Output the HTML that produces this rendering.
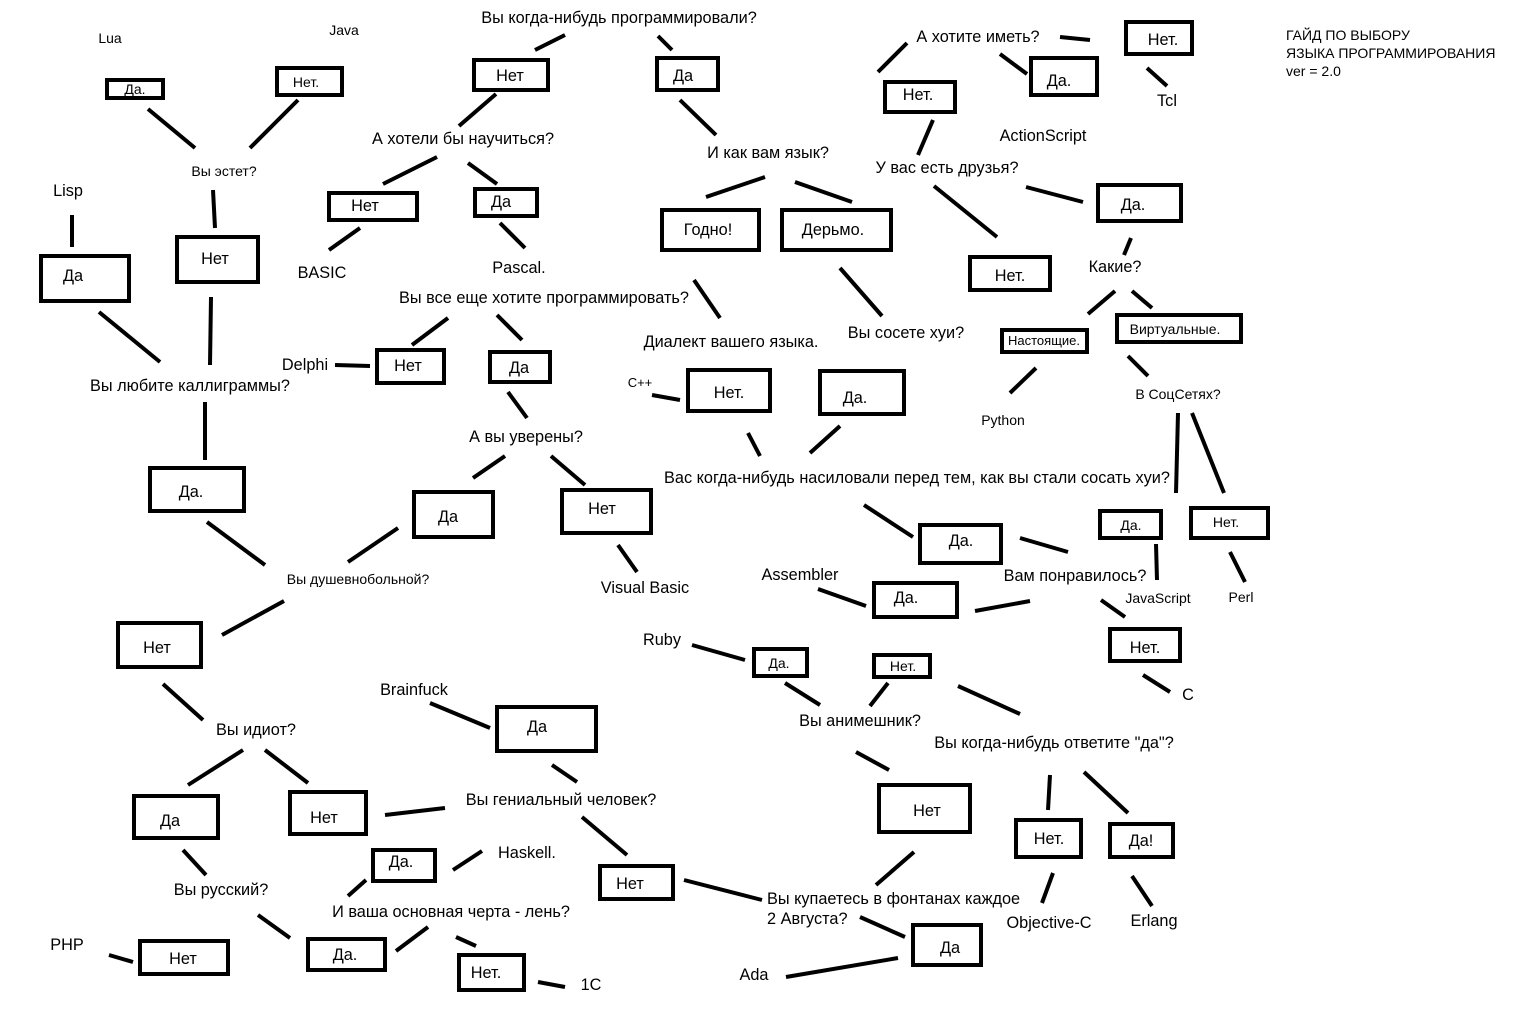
<!DOCTYPE html>
<html><head><meta charset="utf-8"><style>
html,body{margin:0;padding:0;background:#fff}
svg{display:block}
text{font-family:"Liberation Sans","DejaVu Sans",sans-serif;font-size:16.3px;fill:#000}
.s{font-size:14px}
.t{font-size:13px}
rect{fill:none;stroke:#000;stroke-width:4}
line{stroke:#000;stroke-width:4}
</style></head><body>
<svg width="1536" height="1024" viewBox="0 0 1536 1024" xmlns="http://www.w3.org/2000/svg">
<g>
<rect x="107" y="80" width="56" height="18" stroke-width="3"/>
<rect x="277" y="68" width="65" height="27"/>
<rect x="474" y="60" width="74" height="30"/>
<rect x="657" y="58" width="61" height="32"/>
<rect x="329" y="193" width="88" height="27"/>
<rect x="475" y="189" width="62" height="27"/>
<rect x="41" y="256" width="88" height="45"/>
<rect x="177" y="237" width="81" height="45"/>
<rect x="377" y="350" width="67" height="33"/>
<rect x="490" y="352" width="60" height="30"/>
<rect x="662" y="210" width="97" height="40"/>
<rect x="782" y="210" width="109" height="40"/>
<rect x="688" y="370" width="82" height="41"/>
<rect x="820" y="371" width="84" height="43"/>
<rect x="885" y="82" width="70" height="30"/>
<rect x="1031" y="58" width="66" height="37"/>
<rect x="1126" y="22" width="66" height="32"/>
<rect x="1098" y="185" width="83" height="36"/>
<rect x="970" y="257" width="80" height="33"/>
<rect x="1002" y="330" width="85" height="22" stroke-width="3"/>
<rect x="1117" y="315" width="124" height="27"/>
<rect x="150" y="468" width="94" height="43"/>
<rect x="414" y="492" width="79" height="45"/>
<rect x="562" y="490" width="89" height="43"/>
<rect x="920" y="525" width="81" height="38"/>
<rect x="1100" y="511" width="61" height="27"/>
<rect x="1191" y="508" width="77" height="30"/>
<rect x="874" y="583" width="83" height="34"/>
<rect x="1110" y="629" width="70" height="32"/>
<rect x="118" y="623" width="83" height="44"/>
<rect x="754" y="649" width="53" height="27"/>
<rect x="874" y="655" width="56" height="22"/>
<rect x="497" y="707" width="99" height="44"/>
<rect x="879" y="785" width="91" height="47"/>
<rect x="134" y="796" width="84" height="42"/>
<rect x="290" y="792" width="76" height="42"/>
<rect x="1016" y="820" width="65" height="37"/>
<rect x="1110" y="824" width="63" height="33"/>
<rect x="373" y="850" width="62" height="31"/>
<rect x="600" y="866" width="73" height="33"/>
<rect x="913" y="925" width="68" height="40"/>
<rect x="140" y="941" width="88" height="33"/>
<rect x="308" y="939" width="77" height="31"/>
<rect x="459" y="955" width="65" height="35"/>
</g>
<g>
<line x1="148" y1="109" x2="195" y2="148"/><line x1="298" y1="100" x2="250" y2="148"/>
<line x1="213" y1="190" x2="215" y2="228"/><line x1="72" y1="215" x2="72" y2="247"/>
<line x1="99" y1="312" x2="160" y2="362"/><line x1="211" y1="297" x2="210" y2="365"/>
<line x1="205" y1="402" x2="205" y2="460"/><line x1="207" y1="522" x2="265" y2="565"/>
<line x1="398" y1="528" x2="348" y2="562"/><line x1="284" y1="601" x2="222" y2="635"/>
<line x1="163" y1="684" x2="203" y2="720"/><line x1="243" y1="750" x2="188" y2="785"/>
<line x1="265" y1="750" x2="308" y2="783"/><line x1="183" y1="850" x2="206" y2="875"/>
<line x1="385" y1="815" x2="445" y2="808"/><line x1="258" y1="915" x2="290" y2="938"/>
<line x1="109" y1="955" x2="133" y2="962"/><line x1="428" y1="927" x2="396" y2="951"/>
<line x1="456" y1="937" x2="476" y2="946"/><line x1="538" y1="982" x2="565" y2="987"/>
<line x1="348" y1="896" x2="366" y2="880"/><line x1="453" y1="870" x2="482" y2="851"/>
<line x1="552" y1="765" x2="577" y2="782"/><line x1="582" y1="817" x2="627" y2="855"/>
<line x1="430" y1="703" x2="490" y2="728"/><line x1="684" y1="880" x2="762" y2="900"/>
<line x1="860" y1="917" x2="905" y2="937"/><line x1="786" y1="977" x2="898" y2="958"/>
<line x1="914" y1="852" x2="876" y2="885"/><line x1="856" y1="752" x2="889" y2="770"/>
<line x1="785" y1="683" x2="820" y2="705"/><line x1="870" y1="706" x2="888" y2="683"/>
<line x1="692" y1="645" x2="745" y2="660"/><line x1="958" y1="686" x2="1020" y2="714"/>
<line x1="1050" y1="775" x2="1048" y2="810"/><line x1="1084" y1="772" x2="1128" y2="813"/>
<line x1="1053" y1="873" x2="1042" y2="903"/><line x1="1132" y1="876" x2="1152" y2="906"/>
<line x1="818" y1="589" x2="866" y2="606"/><line x1="975" y1="611" x2="1030" y2="601"/>
<line x1="1101" y1="600" x2="1125" y2="617"/><line x1="1143" y1="675" x2="1170" y2="692"/>
<line x1="1156" y1="544" x2="1157" y2="580"/><line x1="1230" y1="552" x2="1245" y2="582"/>
<line x1="1178" y1="413" x2="1176" y2="493"/><line x1="1192" y1="413" x2="1224" y2="493"/>
<line x1="1128" y1="356" x2="1148" y2="376"/><line x1="1088" y1="314" x2="1115" y2="291"/>
<line x1="1132" y1="291" x2="1152" y2="308"/><line x1="1131" y1="238" x2="1124" y2="255"/>
<line x1="1026" y1="187" x2="1083" y2="202"/><line x1="934" y1="186" x2="997" y2="237"/>
<line x1="933" y1="120" x2="918" y2="155"/><line x1="878" y1="72" x2="907" y2="43"/>
<line x1="1000" y1="54" x2="1027" y2="74"/><line x1="1060" y1="37" x2="1090" y2="40"/>
<line x1="1147" y1="68" x2="1167" y2="86"/><line x1="1036" y1="368" x2="1010" y2="393"/>
<line x1="864" y1="505" x2="913" y2="537"/><line x1="1020" y1="538" x2="1068" y2="552"/>
<line x1="748" y1="433" x2="760" y2="456"/><line x1="840" y1="426" x2="810" y2="453"/>
<line x1="840" y1="268" x2="882" y2="316"/><line x1="694" y1="280" x2="720" y2="318"/>
<line x1="652" y1="395" x2="680" y2="400"/><line x1="706" y1="197" x2="765" y2="177"/>
<line x1="795" y1="182" x2="852" y2="202"/><line x1="680" y1="100" x2="716" y2="135"/>
<line x1="658" y1="36" x2="672" y2="50"/><line x1="565" y1="35" x2="535" y2="50"/>
<line x1="496" y1="94" x2="459" y2="126"/><line x1="437" y1="157" x2="383" y2="184"/>
<line x1="468" y1="163" x2="497" y2="184"/><line x1="360" y1="228" x2="329" y2="250"/>
<line x1="500" y1="223" x2="525" y2="248"/><line x1="448" y1="318" x2="412" y2="345"/>
<line x1="497" y1="315" x2="522" y2="340"/><line x1="335" y1="365" x2="370" y2="366"/>
<line x1="508" y1="392" x2="527" y2="418"/><line x1="505" y1="456" x2="473" y2="478"/>
<line x1="551" y1="456" x2="585" y2="485"/><line x1="618" y1="545" x2="637" y2="572"/>
</g>
<g text-anchor="middle">
<text x="135" y="94" class="s">Да.</text>
<text x="306" y="87" class="s">Нет.</text>
<text x="510" y="81">Нет</text>
<text x="683" y="81">Да</text>
<text x="365" y="211">Нет</text>
<text x="501" y="207">Да</text>
<text x="73" y="281">Да</text>
<text x="215" y="264">Нет</text>
<text x="408" y="371">Нет</text>
<text x="519" y="373">Да</text>
<text x="708" y="235">Годно!</text>
<text x="833" y="235">Дерьмо.</text>
<text x="729" y="398">Нет.</text>
<text x="855" y="403">Да.</text>
<text x="918" y="100">Нет.</text>
<text x="1059" y="86">Да.</text>
<text x="1163" y="45">Нет.</text>
<text x="1133" y="210">Да.</text>
<text x="1010" y="281">Нет.</text>
<text x="1044" y="345" class="t">Настоящие.</text>
<text x="1175" y="334" class="s">Виртуальные.</text>
<text x="191" y="497">Да.</text>
<text x="448" y="522">Да</text>
<text x="602" y="514">Нет</text>
<text x="961" y="546">Да.</text>
<text x="1131" y="530" class="s">Да.</text>
<text x="1226" y="527" class="s">Нет.</text>
<text x="906" y="603">Да.</text>
<text x="1145" y="653">Нет.</text>
<text x="157" y="653">Нет</text>
<text x="779" y="668" class="s">Да.</text>
<text x="903" y="671" class="s">Нет.</text>
<text x="537" y="732">Да</text>
<text x="927" y="816">Нет</text>
<text x="170" y="826">Да</text>
<text x="324" y="823">Нет</text>
<text x="1049" y="844">Нет.</text>
<text x="1141" y="846">Да!</text>
<text x="401" y="867">Да.</text>
<text x="630" y="889">Нет</text>
<text x="950" y="953">Да</text>
<text x="183" y="964">Нет</text>
<text x="345" y="960">Да.</text>
<text x="486" y="978">Нет.</text>

<text x="619" y="23">Вы когда-нибудь программировали?</text>
<text x="110" y="43" class="s">Lua</text>
<text x="344" y="35" class="s">Java</text>
<text x="224" y="176" class="s">Вы эстет?</text>
<text x="463" y="144">А хотели бы научиться?</text>
<text x="68" y="196">Lisp</text>
<text x="322" y="278">BASIC</text>
<text x="519" y="273">Pascal.</text>
<text x="544" y="303">Вы все еще хотите программировать?</text>
<text x="768" y="158">И как вам язык?</text>
<text x="947" y="173">У вас есть друзья?</text>
<text x="978" y="42">А хотите иметь?</text>
<text x="1043" y="141">ActionScript</text>
<text x="1167" y="106">Tcl</text>
<text x="1115" y="272">Какие?</text>
<text x="190" y="391">Вы любите каллиграммы?</text>
<text x="305" y="370">Delphi</text>
<text x="731" y="347">Диалект вашего языка.</text>
<text x="906" y="338">Вы сосете хуи?</text>
<text x="640" y="387" class="t">C++</text>
<text x="1003" y="425" class="s">Python</text>
<text x="1178" y="399" class="s">В СоцСетях?</text>
<text x="526" y="442">А вы уверены?</text>
<text x="917" y="483">Вас когда-нибудь насиловали перед тем, как вы стали сосать хуи?</text>
<text x="358" y="584" class="s">Вы душевнобольной?</text>
<text x="645" y="593">Visual Basic</text>
<text x="800" y="580">Assembler</text>
<text x="1075" y="581">Вам понравилось?</text>
<text x="1158" y="603" class="s">JavaScript</text>
<text x="1241" y="602" class="s">Perl</text>
<text x="662" y="645">Ruby</text>
<text x="1188" y="700">C</text>
<text x="414" y="695">Brainfuck</text>
<text x="860" y="726">Вы анимешник?</text>
<text x="1054" y="748">Вы когда-нибудь ответите "да"?</text>
<text x="256" y="735">Вы идиот?</text>
<text x="561" y="805">Вы гениальный человек?</text>
<text x="527" y="858">Haskell.</text>
<text x="221" y="895">Вы русский?</text>
<text x="1049" y="928">Objective-C</text>
<text x="1154" y="926">Erlang</text>
<text x="451" y="917">И ваша основная черта - лень?</text>
<text x="67" y="950">PHP</text>
<text x="754" y="980">Ada</text>
<text x="591" y="990">1С</text>
</g>
<text x="767" y="904">Вы купаетесь в фонтанах каждое</text>
<text x="767" y="924">2 Августа?</text>
<text x="1286" y="40" class="s">ГАЙД ПО ВЫБОРУ</text>
<text x="1286" y="58" class="s">ЯЗЫКА ПРОГРАММИРОВАНИЯ</text>
<text x="1286" y="76" class="s">ver = 2.0</text>
</svg>
</body></html>
